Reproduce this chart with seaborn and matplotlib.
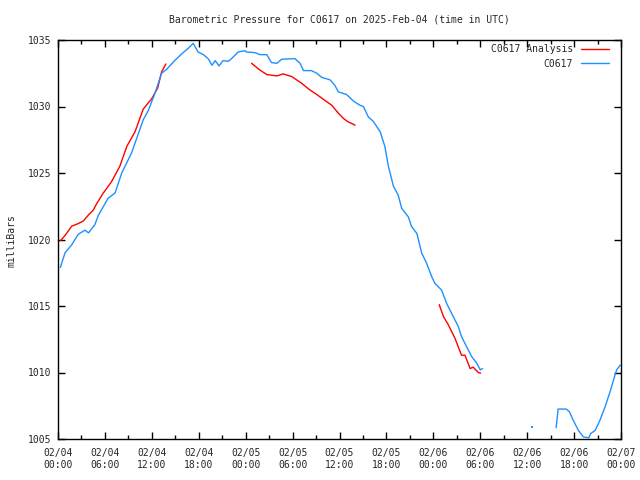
import numpy as np
import pandas as pd
import matplotlib
matplotlib.use('Agg')
import matplotlib.pyplot as plt
import matplotlib.dates as mdates
from matplotlib.lines import Line2D
import seaborn as sns

# hours after 2025-02-04 00:00 UTC, pressure in mbar
obs_h = [0.3, 0.9, 1.75, 2.6, 3.45, 3.9, 4.7, 5.15, 6.4, 7.3, 8.15, 9.4, 10.3, 10.9,
         11.55, 12.4, 13.25, 13.9, 15.0, 16.0, 16.7, 17.3, 17.9, 18.6, 19.2, 19.7,
         20.1, 20.6, 21.1, 21.8, 22.2, 23.05, 23.9, 24.1, 25.2, 25.8, 26.7, 27.3,
         28.0, 28.6, 30.3, 30.95, 31.4, 32.4, 33.1, 33.7, 34.8, 35.4, 35.85, 36.9,
         37.8, 38.6, 39.05, 39.7, 40.3, 41.2, 41.8, 42.25, 42.9, 43.5, 43.95, 44.8,
         45.2, 45.9, 46.5, 47.15, 47.8, 48.2, 49.05, 49.7, 50.55, 51.2, 51.6, 52.25,
         52.9, 53.55, 54.0, 54.3]
obs_p = [1017.9, 1019.0, 1019.6, 1020.4, 1020.7, 1020.5, 1021.1, 1021.8, 1023.1,
         1023.5, 1025.0, 1026.5, 1028.0, 1029.0, 1029.7, 1031.0, 1032.5, 1032.8,
         1033.5, 1034.05, 1034.4, 1034.75, 1034.1, 1033.9, 1033.6, 1033.1, 1033.45,
         1033.05, 1033.45, 1033.4, 1033.6, 1034.1, 1034.2, 1034.1, 1034.05, 1033.9,
         1033.9, 1033.3, 1033.25, 1033.55, 1033.6, 1033.25, 1032.7, 1032.7, 1032.5,
         1032.2, 1032.0, 1031.6, 1031.1, 1030.9, 1030.4, 1030.1, 1030.0, 1029.2,
         1028.9, 1028.1, 1027.0, 1025.5, 1024.0, 1023.35, 1022.35, 1021.7, 1021.0,
         1020.45, 1019.0, 1018.2, 1017.2, 1016.7, 1016.2, 1015.2, 1014.2, 1013.45,
         1012.7, 1011.95, 1011.2, 1010.7, 1010.2, 1010.3]

# lone reading during the gap
dot_h = [60.65]
dot_p = [1005.9]

obs2_h = [63.7, 63.9, 63.95, 65.0, 65.4, 65.9, 66.55, 67.2, 67.9, 68.1, 68.7, 69.3,
          69.95, 70.6, 71.1, 71.45, 71.9]
obs2_p = [1005.85, 1006.9, 1007.25, 1007.25, 1007.05, 1006.4, 1005.65, 1005.15,
          1005.1, 1005.4, 1005.65, 1006.4, 1007.4, 1008.55, 1009.55, 1010.2, 1010.55]

ana1_h = [0.3, 0.9, 1.75, 2.6, 3.25, 3.9, 4.5, 4.95, 5.8, 6.85, 7.9, 8.8, 9.85, 10.9,
          12.0, 12.75, 13.25, 13.8]
ana1_p = [1019.9, 1020.3, 1021.0, 1021.2, 1021.4, 1021.85, 1022.2, 1022.7, 1023.5,
          1024.35, 1025.5, 1027.0, 1028.1, 1029.8, 1030.6, 1031.4, 1032.6, 1033.2]

ana2_h = [24.75, 25.8, 26.7, 28.0, 28.8, 29.9, 31.15, 32.2, 33.1, 34.15, 35.0, 35.85,
          36.5, 37.1, 38.0]
ana2_p = [1033.25, 1032.75, 1032.4, 1032.3, 1032.45, 1032.25, 1031.75, 1031.25,
          1030.9, 1030.45, 1030.1, 1029.5, 1029.1, 1028.85, 1028.6]

ana3_h = [48.75, 49.3, 49.9, 50.75, 51.6, 52.05, 52.7, 53.1, 53.75, 54.05]
ana3_p = [1015.1, 1014.2, 1013.6, 1012.6, 1011.3, 1011.3, 1010.3, 1010.4, 1010.0, 1009.95]

t0 = pd.Timestamp('2025-02-04 00:00')


def seg(h, p):
    return pd.DataFrame({'time': t0 + pd.to_timedelta(h, unit='h'), 'p': p})


sns.set_style('ticks')
plt.rcParams['font.family'] = ['DejaVu Sans Mono']
plt.rcParams['font.size'] = 7

fig = plt.figure(figsize=(6.4, 4.8), dpi=100)
ax = fig.add_axes([58 / 640, 41 / 480, 563 / 640, 399 / 480])

red = '#ff0000'
blue = '#1e90ff'

for h, p in [(ana1_h, ana1_p), (ana2_h, ana2_p), (ana3_h, ana3_p)]:
    sns.lineplot(data=seg(h, p), x='time', y='p', color=red, lw=1, ax=ax,
                 estimator=None, sort=False)
for h, p in [(obs_h, obs_p), (obs2_h, obs2_p)]:
    sns.lineplot(data=seg(h, p), x='time', y='p', color=blue, lw=1, ax=ax,
                 estimator=None, sort=False)
sns.scatterplot(data=seg(dot_h, dot_p), x='time', y='p', color=blue, s=2,
                marker='s', linewidth=0, ax=ax)

ax.set_xlim(t0, t0 + pd.Timedelta(hours=72))
ax.set_ylim(1005, 1035)
ax.set_yticks(np.arange(1005, 1036, 5))
ax.xaxis.set_major_locator(mdates.HourLocator(byhour=[0, 6, 12, 18]))
ax.xaxis.set_minor_locator(mdates.HourLocator(byhour=[3, 9, 15, 21]))
ax.xaxis.set_major_formatter(mdates.DateFormatter('%m/%d\n%H:%M'))
ax.tick_params(which='both', direction='in', top=True, right=True, width=1,
               color='black', labelsize=7)
ax.tick_params(which='major', length=5)
ax.tick_params(which='minor', length=3)
ax.tick_params(axis='x', which='both', pad=6.5)
ax.tick_params(axis='y', which='both', pad=5)
for s in ax.spines.values():
    s.set_color('black')
    s.set_linewidth(1)

ax.set_xlabel('')
ax.set_ylabel('')
fig.text(11.5 / 640, 1 - 241 / 480, 'milliBars', rotation=90, ha='center',
         va='center', fontsize=7)
fig.text(339.5 / 640, 1 - 19.5 / 480,
         'Barometric Pressure for C0617 on 2025-Feb-04 (time in UTC)',
         ha='center', va='center', fontsize=7)

handles = [Line2D([], [], color=red, lw=1), Line2D([], [], color=blue, lw=1)]
ax.legend(handles, ['C0617 Analysis', 'C0617'], loc='upper right', frameon=False,
          markerfirst=False, fontsize=7, handlelength=2.9, handletextpad=0.8,
          borderaxespad=0, borderpad=0, labelspacing=0.5,
          bbox_to_anchor=(1 - 12 / 563, 1 - 4 / 399))

fig.savefig('out.png', dpi=100)
